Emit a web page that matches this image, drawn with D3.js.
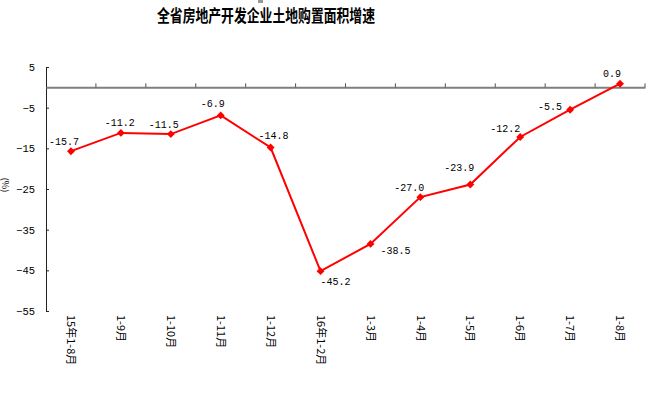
<!DOCTYPE html>
<html>
<head>
<meta charset="utf-8">
<script src="https://cdnjs.cloudflare.com/ajax/libs/d3/7.8.5/d3.min.js"></script>
<style>
  body { margin: 0; background: #fff; }
  svg { display: block; }
</style>
</head>
<body>
<div id="chart"></div>
<script>
// Chart data
var categories = ["15年1-8月", "1-9月", "1-10月", "1-11月", "1-12月", "16年1-2月",
  "1-3月", "1-4月", "1-5月", "1-6月", "1-7月", "1-8月"];
var growth = [-15.7, -11.2, -11.5, -6.9, -14.8, -45.2, -38.5, -27.0, -23.9, -12.2, -5.5, 0.9];
var yTicks = [5, -5, -15, -25, -35, -45, -55];

// label offsets relative to the point (layout only)
var labelOffsets = [[-7, -10], [-1, -10], [-7, -10], [-8, -12], [3, -12], [15, 10],
  [25, 7], [-11, -10], [-11, -17], [-15, -8], [-20, -3], [-8, -10]];

var svgWidth = 672;
var svgHeight = 397;

var chartMargin = { top: 67, right: 27, bottom: 86, left: 46 };
var chartWidth = svgWidth - chartMargin.left - chartMargin.right;
var chartHeight = svgHeight - chartMargin.top - chartMargin.bottom;

var svg = d3.select("#chart")
  .append("svg")
  .attr("width", svgWidth)
  .attr("height", svgHeight);

// small gray mark at top
svg.append("rect")
  .attr("x", 258).attr("y", 0).attr("width", 5).attr("height", 3)
  .attr("fill", "#999");

// Title
svg.append("text")
  .attr("x", 157)
  .attr("y", 22)
  .attr("textLength", 218)
  .attr("lengthAdjust", "spacingAndGlyphs")
  .style("font-family", "'Noto Sans CJK SC'")
  .style("font-weight", "bold")
  .style("font-size", "17px")
  .text("全省房地产开发企业土地购置面积增速");

var chartGroup = svg.append("g")
  .attr("transform", `translate(${chartMargin.left}, ${chartMargin.top})`);

var xBandScale = d3.scaleBand()
  .domain(categories)
  .range([0, chartWidth]);

var yLinearScale = d3.scaleLinear()
  .domain([-55, 5])
  .range([chartHeight, 0]);

// y axis
var leftAxis = d3.axisLeft(yLinearScale)
  .tickValues(yTicks)
  .tickSizeInner(-3)
  .tickSizeOuter(0)
  .tickPadding(11);

var yAxisG = chartGroup.append("g").call(leftAxis);
yAxisG.select(".domain").attr("stroke", "#222");
yAxisG.selectAll(".tick line").attr("stroke", "#222");
yAxisG.selectAll("text")
  .style("font-family", "'Liberation Mono', monospace")
  .style("font-size", "10.5px")
  .attr("fill", "#000");

// zero line with category ticks
var zeroAxis = d3.axisTop(xBandScale)
  .tickValues([])
  .tickSizeOuter(0);
var zeroG = chartGroup.append("g")
  .attr("transform", `translate(0, ${yLinearScale(0)})`)
  .call(zeroAxis);
zeroG.select(".domain").attr("stroke", "#7f7f7f").attr("stroke-width", 2);
zeroG.selectAll(".sep")
  .data(categories)
  .enter()
  .append("line")
  .attr("class", "sep")
  .attr("x1", d => xBandScale(d) + xBandScale.bandwidth())
  .attr("x2", d => xBandScale(d) + xBandScale.bandwidth())
  .attr("y1", 0)
  .attr("y2", -4)
  .attr("stroke", "#555");

// x category labels, rotated
chartGroup.selectAll(".xlabel")
  .data(categories)
  .enter()
  .append("text")
  .attr("class", "xlabel")
  .attr("transform", d => `translate(${xBandScale(d) + xBandScale.bandwidth() / 2}, ${chartHeight + 4}) rotate(90)`)
  .attr("dy", "0.35em")
  .style("font-family", "'Noto Sans CJK SC'")
  .style("font-size", "11px")
  .text(d => d);

// y axis title
svg.append("text")
  .attr("transform", "translate(5, 185) rotate(90)")
  .attr("text-anchor", "middle")
  .attr("dy", "0.35em")
  .style("font-family", "'Noto Sans CJK SC'")
  .style("font-size", "9px")
  .text("(%)");

// line
var line1 = d3.line()
  .x((d, i) => xBandScale(categories[i]) + xBandScale.bandwidth() / 2)
  .y(d => yLinearScale(d));

chartGroup.append("path")
  .datum(growth)
  .attr("d", line1)
  .attr("fill", "none")
  .attr("stroke", "#ff0000")
  .attr("stroke-width", 2);

// diamond markers
chartGroup.selectAll(".marker")
  .data(growth)
  .enter()
  .append("path")
  .attr("class", "marker")
  .attr("d", d3.symbol().type(d3.symbolDiamond2).size(40))
  .attr("transform", (d, i) => `translate(${xBandScale(categories[i]) + xBandScale.bandwidth() / 2}, ${yLinearScale(d)})`)
  .attr("fill", "#ff0000");

// data labels
chartGroup.selectAll(".vlabel")
  .data(growth)
  .enter()
  .append("text")
  .attr("class", "vlabel")
  .attr("x", (d, i) => xBandScale(categories[i]) + xBandScale.bandwidth() / 2 + labelOffsets[i][0])
  .attr("y", (d, i) => yLinearScale(d) + labelOffsets[i][1])
  .attr("text-anchor", "middle")
  .attr("dy", "0.35em")
  .style("font-family", "'Liberation Mono', monospace")
  .style("font-size", "10px")
  .text(d => d.toFixed(1));
</script>
</body>
</html>
